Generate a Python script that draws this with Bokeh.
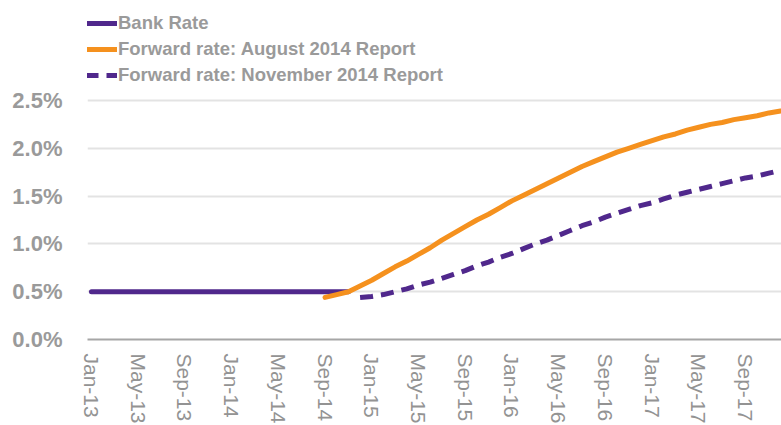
import pandas as pd
from bokeh.plotting import figure
from bokeh.models import FixedTicker, PrintfTickFormatter, Legend, LegendItem, Range1d
from bokeh.embed import file_html
from bokeh.resources import INLINE

# ---- data ----
origin = "2013-01"
bank_start = "2013-01"
bank_rate = [0.5] * 23  # Jan-13 .. Nov-14

aug_start = "2014-09"
aug_forward = [0.44, 0.47, 0.50, 0.56, 0.62, 0.69, 0.76, 0.82, 0.89, 0.96,
               1.04, 1.11, 1.18, 1.25, 1.31, 1.38, 1.45, 1.51, 1.57, 1.63,
               1.69, 1.75, 1.81, 1.86, 1.91, 1.96, 2.00, 2.04, 2.08, 2.12,
               2.15, 2.19, 2.22, 2.25, 2.27, 2.30, 2.32, 2.34, 2.37, 2.39]

nov_start = "2014-12"
nov_forward = [0.44, 0.45, 0.47, 0.50, 0.53, 0.57, 0.60, 0.64, 0.68, 0.72,
               0.77, 0.81, 0.86, 0.90, 0.95, 1.00, 1.04, 1.09, 1.14, 1.19,
               1.23, 1.28, 1.32, 1.36, 1.40, 1.43, 1.47, 1.51, 1.54, 1.57,
               1.60, 1.63, 1.66, 1.69, 1.71, 1.74, 1.77]

tick_labels = ["Jan-13", "May-13", "Sep-13", "Jan-14", "May-14", "Sep-14",
               "Jan-15", "May-15", "Sep-15", "Jan-16", "May-16", "Sep-16",
               "Jan-17", "May-17", "Sep-17"]
y_ticks = [0.0, 0.5, 1.0, 1.5, 2.0, 2.5]

series_names = ["Bank Rate", "Forward rate: August 2014 Report",
                "Forward rate: November 2014 Report"]

# ---- helpers ----
o = pd.Period(origin, freq="M")


def month_index(start, n):
    s = pd.Period(start, freq="M")
    base = (s - o).n
    return [base + i for i in range(n)]


tick_x = [(pd.Period(pd.to_datetime(t, format="%b-%y"), freq="M") - o).n for t in tick_labels]

PURPLE = "#50288C"
ORANGE = "#F5911E"
GREY = "#9A9A9A"
FONT = "'Liberation Sans', Arial, sans-serif"

p = figure(frame_width=694, frame_height=339, output_backend="svg", toolbar_location=None,
           x_range=Range1d(-0.34, 59.08), y_range=Range1d(0, 3.546),
           min_border_left=87, min_border_right=0, min_border_top=0,
           min_border_bottom=86)
p.outline_line_color = None
p.background_fill_color = "white"
p.border_fill_color = "white"

r_bank = p.line(month_index(bank_start, len(bank_rate)), bank_rate,
                line_color=PURPLE, line_width=5, line_cap="round")
r_aug = p.line(month_index(aug_start, len(aug_forward)), aug_forward,
               line_color=ORANGE, line_width=5, line_cap="round")
r_nov = p.line(month_index(nov_start, len(nov_forward)), nov_forward,
               line_color=PURPLE, line_width=5, line_dash="13 8")

# axes
p.yaxis.ticker = FixedTicker(ticks=y_ticks)
p.yaxis.formatter = PrintfTickFormatter(format="%.1f%%")
p.yaxis.axis_line_color = None
p.yaxis.major_tick_line_color = None
p.yaxis.minor_tick_line_color = None
p.yaxis.major_tick_out = 0
p.yaxis.major_label_standoff = 25
p.yaxis.major_label_text_font = FONT
p.yaxis.major_label_text_font_size = "22px"
p.yaxis.major_label_text_font_style = "bold"
p.yaxis.major_label_text_color = GREY

p.xaxis.ticker = FixedTicker(ticks=tick_x)
p.xaxis.major_label_overrides = {x: t for x, t in zip(tick_x, tick_labels)}
p.xaxis.major_label_orientation = "vertical"
p.xaxis.axis_line_color = "#A6A6A6"
p.xaxis.axis_line_width = 2
p.xaxis.major_tick_line_color = None
p.xaxis.minor_tick_line_color = None
p.xaxis.major_tick_out = 0
p.xaxis.major_label_standoff = 14
p.xaxis.major_label_text_font = FONT
p.xaxis.major_label_text_font_size = "21px"
p.xaxis.major_label_text_color = "#939393"

p.xgrid.grid_line_color = None
p.ygrid.ticker = FixedTicker(ticks=y_ticks)
p.ygrid.grid_line_color = "#E3E3E3"
p.ygrid.grid_line_width = 2

legend = Legend(items=[LegendItem(label=series_names[0], renderers=[r_bank]),
                       LegendItem(label=series_names[1], renderers=[r_aug]),
                       LegendItem(label=series_names[2], renderers=[r_nov])],
                location=(-2, 253), orientation="vertical",
                glyph_width=32, glyph_height=22, label_height=22,
                label_standoff=1, spacing=4, padding=0, margin=0,
                border_line_color=None, background_fill_alpha=0)
legend.label_text_font = FONT
legend.label_text_font_size = "18.5px"
legend.label_text_font_style = "bold"
legend.label_text_color = GREY
p.add_layout(legend, "center")

open("out.html", "w").write(file_html(p, INLINE))
